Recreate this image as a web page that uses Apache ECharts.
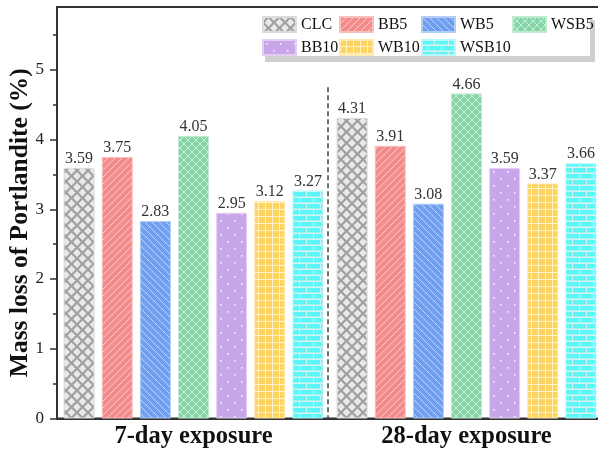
<!DOCTYPE html>
<html><head><meta charset="utf-8">
<script src="https://cdn.jsdelivr.net/npm/echarts@6/dist/echarts.min.js"></script>
<style>html,body{margin:0;padding:0;background:#fff}#c{width:598px;height:453px}</style>
</head><body><div id="c"></div>
<script>
var categories = ['7-day exposure', '28-day exposure'];
var seriesNames = ['CLC', 'BB5', 'WB5', 'WSB5', 'BB10', 'WB10', 'WSB10'];
var CLC = [3.59, 4.31];
var BB5 = [3.75, 3.91];
var WB5 = [2.83, 3.08];
var WSB5 = [4.05, 4.66];
var BB10 = [2.95, 3.59];
var WB10 = [3.12, 3.37];
var WSB10 = [3.27, 3.66];
var yTicks = [0, 1, 2, 3, 4, 5];
var yMinorTicks = [0.5, 1.5, 2.5, 3.5, 4.5, 5.5];

var FONT = '"Liberation Serif", "Times New Roman", serif';

function tile(w, h, base, draw) {
  var c = document.createElement('canvas');
  c.width = w; c.height = h;
  var g = c.getContext('2d');
  g.fillStyle = base; g.fillRect(0, 0, w, h);
  draw(g, w, h);
  return { image: c, repeat: 'repeat' };
}
function diag(dir, s, base, stroke) {
  return tile(s, s, base, function (g) {
    g.strokeStyle = stroke; g.lineWidth = 1;
    for (var k = -1; k <= 1; k++) {
      g.beginPath();
      if (dir > 0) { g.moveTo(k * s, s); g.lineTo(k * s + s, 0); }
      else { g.moveTo(k * s, 0); g.lineTo(k * s + s, s); }
      g.stroke();
    }
  });
}
var patterns = {
  CLC: tile(11, 11, '#a0a0a0', function (g) {
    g.fillStyle = '#e9e9e9';
    function dm(x, y) { var r = 3.9; g.beginPath(); g.moveTo(x, y - r); g.lineTo(x + r, y); g.lineTo(x, y + r); g.lineTo(x - r, y); g.closePath(); g.fill(); }
    dm(0, 0); dm(11, 0); dm(0, 11); dm(11, 11); dm(5.5, 5.5);
  }),
  BB5: diag(1, 7, '#f48b8b', 'rgba(255,255,255,0.55)'),
  WB5: diag(-1, 7, '#6f9fee', 'rgba(255,255,255,0.55)'),
  WSB5: tile(8, 8, '#84d5a6', function (g) {
    g.strokeStyle = 'rgba(255,255,255,0.6)'; g.lineWidth = 1;
    for (var k = -1; k <= 1; k++) {
      g.beginPath(); g.moveTo(k * 8, 8); g.lineTo(k * 8 + 8, 0); g.stroke();
      g.beginPath(); g.moveTo(k * 8, 0); g.lineTo(k * 8 + 8, 8); g.stroke();
    }
  }),
  BB10: tile(14, 14, '#c9a5ea', function (g) {
    g.fillStyle = 'rgba(255,255,255,0.85)';
    g.fillRect(3, 3, 1.6, 1.6); g.fillRect(10, 10, 1.6, 1.6);
  }),
  WB10: tile(7, 7, '#fed35f', function (g) {
    g.fillStyle = 'rgba(255,245,210,0.9)';
    g.fillRect(6, 0, 1, 7); g.fillRect(0, 6, 7, 1);
  }),
  WSB10: tile(14, 12, '#d8f2f2', function (g) {
    g.fillStyle = '#5cf6f6';
    g.fillRect(0, 0, 12, 4.5); g.fillRect(13, 0, 1, 4.5);
    g.fillRect(0, 6, 5, 4.5); g.fillRect(6, 6, 8, 4.5);
  })
};
var borderCols = { CLC: '#dcdcdc', BB5: '#f9c0c0', WB5: '#b3cdf6', WSB5: '#c1ead2', BB10: '#e2d0f4', WB10: '#ffe9ac', WSB10: '#b4fbfb' };
var dataMap = { CLC: CLC, BB5: BB5, WB5: WB5, WSB5: WSB5, BB10: BB10, WB10: WB10, WSB10: WSB10 };

var series = seriesNames.map(function (n) {
  return {
    name: n, type: 'bar', data: dataMap[n], barWidth: 31, barGap: '23%',
    itemStyle: { color: patterns[n], borderColor: borderCols[n], borderWidth: 1 },
    label: { show: true, position: 'top', distance: 1, fontFamily: FONT, fontSize: 16, color: '#333',
      formatter: function (p) { return p.value.toFixed(2); } },
    emphasis: { disabled: true }
  };
});

function legendCol(left, names) {
  return {
    orient: 'vertical', left: left, top: 16, padding: 0, itemGap: 6,
    itemWidth: 33, itemHeight: 15, itemTextGap: 4, icon: 'rect',
    data: names, selectedMode: false,
    textStyle: { fontFamily: FONT, fontSize: 16, color: '#111' }
  };
}

var boxGraphics = [
  { type: 'rect', z: 1, shape: { x: 265, y: 20, width: 330, height: 42 }, style: { fill: '#cfcfcf' } },
  { type: 'rect', z: 2, shape: { x: 259, y: 14, width: 331, height: 42 }, style: { fill: '#fff' } }
];

var chart = echarts.init(document.getElementById('c'), null, { renderer: 'canvas' });
chart.setOption({
  animation: false,
  backgroundColor: '#fff',
  grid: { left: 57, right: -5, top: 7, bottom: 34.5, containLabel: false, outerBoundsMode: 'none',
    show: true, borderColor: '#333', borderWidth: 2, backgroundColor: 'transparent' },
  legend: [
    legendCol(262, ['CLC', 'BB10']),
    legendCol(339, ['BB5', 'WB10']),
    legendCol(421, ['WB5', 'WSB10']),
    legendCol(512, ['WSB5'])
  ],
  graphic: boxGraphics,
  xAxis: {
    type: 'category', data: categories,
    axisLine: { lineStyle: { color: '#333', width: 2 } },
    axisTick: { show: false },
    axisLabel: { fontFamily: FONT, fontSize: 24.5, fontWeight: 'bold', color: '#111', margin: 6 },
    splitLine: { show: false }
  },
  yAxis: [{
    type: 'value', min: 0, max: 5.9, interval: 1,
    name: 'Mass loss of Portlandite (%)', nameLocation: 'middle', nameGap: 24, nameMoveOverlap: false,
    nameTextStyle: { fontFamily: FONT, fontSize: 25.5, fontWeight: 'bold', color: '#111', padding: [0, 20, 0, 0] },
    axisLine: { show: true, lineStyle: { color: '#333', width: 2 } },
    axisTick: { show: true, inside: false, length: 7, customValues: yTicks, lineStyle: { color: '#333', width: 1.5 } },
    axisLabel: { customValues: yTicks, fontFamily: FONT, fontSize: 17, color: '#222', margin: 13 },
    splitLine: { show: false }
  }, {
    type: 'value', min: 0, max: 5.9, position: 'left', offset: 0,
    axisLine: { show: false },
    axisTick: { show: true, inside: false, length: 4, customValues: yMinorTicks, lineStyle: { color: '#333', width: 1.5 } },
    axisLabel: { show: false },
    splitLine: { show: false }
  }],
  series: series
});

// dashed separator between the two exposure groups
var p0 = chart.convertToPixel({ xAxisIndex: 0, yAxisIndex: 0 }, [0, 0]);
var p1 = chart.convertToPixel({ xAxisIndex: 0, yAxisIndex: 0 }, [1, 0]);
var pt = chart.convertToPixel({ xAxisIndex: 0, yAxisIndex: 0 }, [1, 4.75]);
var sx = (p0[0] + p1[0]) / 2 - 2;
chart.setOption({
  graphic: boxGraphics.concat([
    { type: 'line', z: 3, shape: { x1: sx, y1: pt[1], x2: sx, y2: p0[1] }, style: { stroke: '#444', lineWidth: 1.5, lineDash: [5, 3] } }
  ])
});
</script></body></html>
